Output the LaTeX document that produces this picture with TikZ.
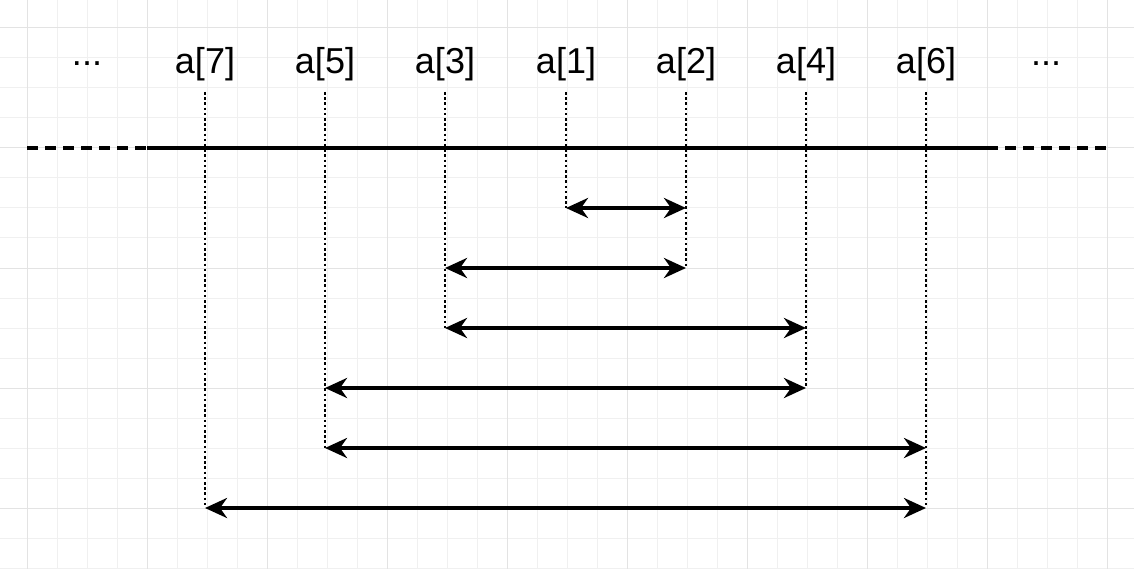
\documentclass[tikz,border=0pt]{standalone}
\usepackage{fontspec}
\setmainfont{Liberation Sans}
\usetikzlibrary{arrows.meta}
\begin{document}
\begin{tikzpicture}[x=1pt,y=-1pt,
  lbl/.style={font=\fontsize{36}{38}\selectfont, inner sep=0pt, anchor=center},
  guide/.style={line width=2.8pt, dash pattern=on 2.6pt off 2.6pt},
  span/.style={line width=3.6pt, {Stealth[length=22pt,width=20pt,inset=7pt]}-{Stealth[length=22pt,width=20pt,inset=7pt]}}]
\useasboundingbox (0,0) rectangle (1134,569);
\fill[white] (0,0) rectangle (1134,569);
\foreach \v in {-3,27,...,1134} {\draw[color=black!6,line width=1pt] (\v,0) -- (\v,569);}
\foreach \v in {-2,28,...,569} {\draw[color=black!6,line width=1pt] (0,\v) -- (1134,\v);}
\foreach \v in {27,147,...,1134} {\draw[color=black!11,line width=1pt] (\v,0) -- (\v,569);}
\foreach \v in {28,148,...,569} {\draw[color=black!11,line width=1pt] (0,\v) -- (1134,\v);}
\node[lbl] (d1) at (87,64) {...};
\node[lbl] (d2) at (1046,64) {...};
\foreach \n/\x/\yb in {7/205/508,5/325/448,3/445/328,1/566/208,2/686/268,4/806/388,6/926/508} {
  \node[lbl] (a\n) at (\x,64) {a[\n]};
  \coordinate (t\n) at (\x,92);
  \coordinate (b\n) at (\x,\yb);
  \draw[guide] (t\n) -- (b\n);
}
\coordinate (l0) at (27,148); \coordinate (l1) at (147,148);
\coordinate (l2) at (987,148); \coordinate (l3) at (1107,148);
\draw[line width=3.6pt, dash pattern=on 11pt off 7pt] (l0) -- (l1);
\draw[line width=3.6pt] (l1) -- (l2);
\draw[line width=3.6pt, dash pattern=on 11pt off 7pt] (l2) -- (l3);
\foreach \p/\q/\y in {1/2/208,3/2/268,3/4/328,5/4/388,5/6/448,7/6/508} {
  \coordinate (s\p\q) at (a\p |- 0,\y);
  \coordinate (e\p\q) at (a\q |- 0,\y);
  \draw[span] (s\p\q) -- (e\p\q);
}
\end{tikzpicture}
\end{document}
